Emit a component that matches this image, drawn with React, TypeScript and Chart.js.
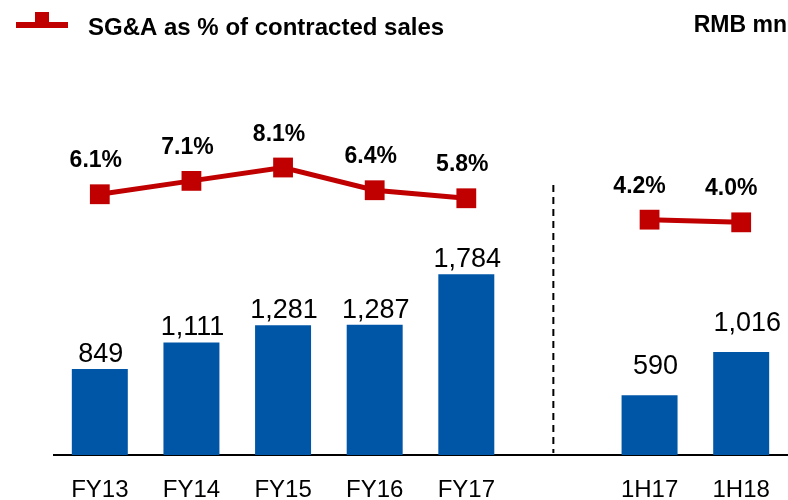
import React, { useEffect, useRef } from "react";
import { Chart, registerables } from "chart.js";

Chart.register(...registerables);

const categories = ["FY13", "FY14", "FY15", "FY16", "FY17", "", "1H17", "1H18"];
const sgaValues: (number | null)[] = [849, 1111, 1281, 1287, 1784, null, 590, 1016];
const sgaLabels = ["849", "1,111", "1,281", "1,287", "1,784", "", "590", "1,016"];
const pctValues: (number | null)[] = [6.1, 7.1, 8.1, 6.4, 5.8, null, 4.2, 4.0];
const pctLabels = ["6.1%", "7.1%", "8.1%", "6.4%", "5.8%", "", "4.2%", "4.0%"];
const legendText = "SG&A as % of contracted sales";
const unitText = "RMB mn";

const RED = "#C00000";
const BLUE = "#0056A6";
const FONT = "Arial, 'Liberation Sans', Helvetica, sans-serif";

const overlayPlugin = {
  id: "overlay",
  afterDatasetsDraw(chart: any) {
    const ctx = chart.ctx as CanvasRenderingContext2D;
    const x = chart.scales.x;
    const area = chart.chartArea;
    ctx.save();

    // dashed separator
    const sx = x.getPixelForValue(4.95);
    ctx.strokeStyle = "#000";
    ctx.lineWidth = 2;
    ctx.setLineDash([7, 5]);
    ctx.beginPath();
    ctx.moveTo(sx, 185);
    ctx.lineTo(sx, area.bottom - 2);
    ctx.stroke();
    ctx.setLineDash([]);

    // bar labels
    const barMeta = chart.getDatasetMeta(1);
    ctx.fillStyle = "#000";
    ctx.textAlign = "center";
    ctx.textBaseline = "alphabetic";
    ctx.font = `27px ${FONT}`;
    barMeta.data.forEach((el: any, i: number) => {
      if (sgaValues[i] == null) return;
      const gap = i >= 6 ? 21 : 7;
      ctx.fillText(sgaLabels[i], el.x + (i >= 6 ? 6 : 1), el.y - gap);
    });

    // line labels
    const lineMeta = chart.getDatasetMeta(0);
    ctx.font = `bold 23px ${FONT}`;
    lineMeta.data.forEach((el: any, i: number) => {
      if (pctValues[i] == null) return;
      const dx = i >= 6 ? -10 : -4;
      ctx.fillText(pctLabels[i], el.x + dx, el.y - 27);
    });

    ctx.restore();
  },
  afterDraw(chart: any) {
    const ctx = chart.ctx as CanvasRenderingContext2D;
    ctx.save();
    // legend marker
    ctx.fillStyle = RED;
    ctx.fillRect(16, 22, 52, 6);
    ctx.fillRect(35, 12, 14, 16);
    // legend text
    ctx.fillStyle = "#000";
    ctx.font = `bold 24px ${FONT}`;
    ctx.textAlign = "left";
    ctx.textBaseline = "alphabetic";
    ctx.fillText(legendText, 88, 35);
    // unit
    ctx.font = `bold 23px ${FONT}`;
    ctx.textAlign = "right";
    ctx.fillText(unitText, 787, 32);
    ctx.restore();
  },
};

export default function App() {
  const ref = useRef<HTMLCanvasElement>(null);
  useEffect(() => {
    document.body.style.margin = "0";
    const chart = new Chart(ref.current!, {
      type: "bar",
      data: {
        labels: categories,
        datasets: [
          {
            type: "line",
            data: pctValues,
            yAxisID: "y1",
            borderColor: RED,
            backgroundColor: RED,
            borderWidth: 5,
            pointStyle: "rect",
            pointRadius: 14,
            pointHoverRadius: 14,
            pointBackgroundColor: RED,
            pointBorderWidth: 0,
            spanGaps: false,
            order: 0,
          } as any,
          {
            type: "bar",
            data: sgaValues,
            yAxisID: "y",
            backgroundColor: BLUE,
            barPercentage: 0.611,
            categoryPercentage: 1,
            order: 1,
          },
        ],
      },
      options: {
        responsive: false,
        animation: false,
        layout: { autoPadding: false, padding: { top: 60, left: 54, right: 1, bottom: 0 } },
        plugins: { legend: { display: false }, tooltip: { enabled: false } },
        scales: {
          x: {
            grid: { display: false, drawTicks: false },
            border: { display: true, color: "#000", width: 2 },
            ticks: {
              color: "#000",
              font: { family: FONT, size: 24 },
              padding: 21,
              maxRotation: 0,
              autoSkip: false,
            },
            afterFit: (s: any) => {
              s.height = 45;
              s.paddingLeft = 0;
              s.paddingRight = 0;
            },
          },
          y: { display: false, min: 0, max: 3900 },
          y1: { display: false, min: -13.4, max: 16.14 },
        },
      },
      plugins: [overlayPlugin],
    });
    return () => chart.destroy();
  }, []);
  return (
    <div style={{ position: "relative", width: 788, height: 500, background: "#fff" }}>
      <canvas ref={ref} width={788} height={500} style={{ display: "block" }} />
    </div>
  );
}
